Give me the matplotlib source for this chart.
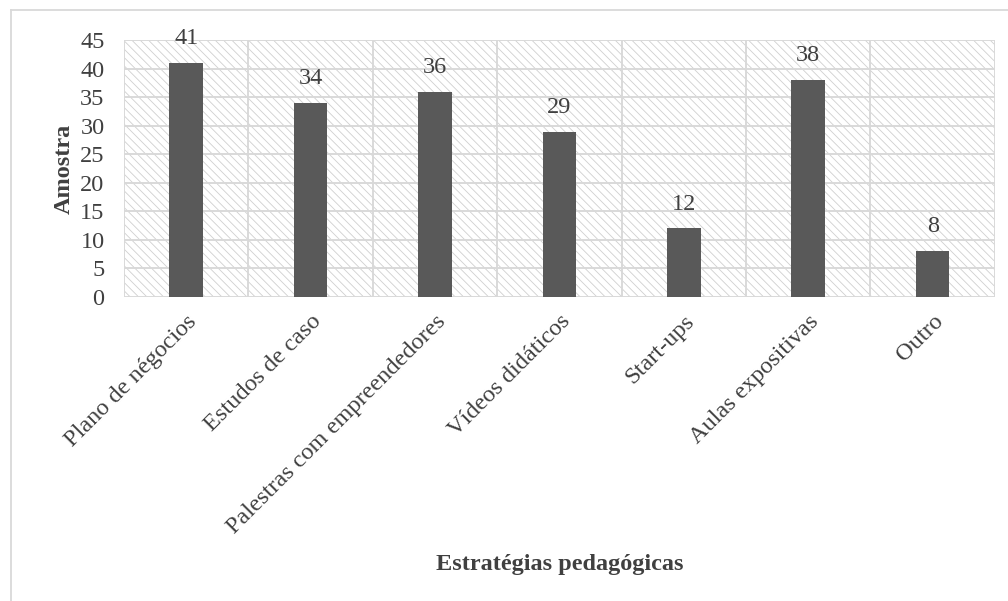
import matplotlib

matplotlib.use("Agg")
import matplotlib.pyplot as plt
from matplotlib.patches import Rectangle
from matplotlib.lines import Line2D

categories = ["Plano de négocios", "Estudos de caso", "Palestras com empreendedores",
              "Vídeos didáticos", "Start-ups", "Aulas expositivas", "Outro"]
values = [41, 34, 36, 29, 12, 38, 8]
y_ticks = [0, 5, 10, 15, 20, 25, 30, 35, 40, 45]

plt.rcParams["font.family"] = ["Liberation Serif", "DejaVu Serif"]
plt.rcParams["hatch.linewidth"] = 0.6
plt.rcParams["hatch.color"] = "#d0d0d0"

grid_color = "#d9d9d9"
text_color = "#404040"
fs = 17.5

fig = plt.figure(figsize=(10.08, 6.01), dpi=100)
ax = fig.add_axes([0.123, 0.506, 0.864, 0.427])

# hatched plot-area background
ax.add_patch(Rectangle((0, 0), 1, 1, transform=ax.transAxes, facecolor="white",
                       edgecolor="#d0d0d0", hatch="\\\\\\\\", linewidth=0, zorder=0))

x = list(range(len(categories)))
ax.bar(x, values, width=0.27, color="#595959", zorder=3)
for xi, v in zip(x, values):
    ax.annotate(str(v), (xi, v), xytext=(0, 10), textcoords="offset points",
                ha="center", va="bottom", fontsize=fs, color=text_color)

ax.set_xlim(-0.5, len(categories) - 0.5)
ax.set_ylim(0, 45)
ax.set_yticks(y_ticks)
ax.set_xticks(x)
ax.set_xticklabels(categories, rotation=45, ha="right", rotation_mode="anchor",
                   fontsize=fs, color=text_color)
ax.tick_params(axis="y", length=0, pad=14, labelsize=fs, labelcolor=text_color)
ax.tick_params(axis="x", length=0, pad=10)

# gridlines: horizontal every 5, vertical at category boundaries
for yv in y_ticks:
    ax.axhline(yv, color=grid_color, linewidth=1.4, zorder=1)
for b in range(len(categories) + 1):
    ax.axvline(b - 0.5, color=grid_color, linewidth=1.4, zorder=1)
for s in ax.spines.values():
    s.set_visible(False)

ax.set_ylabel("Amostra", fontsize=fs, fontweight="bold", color=text_color, labelpad=4)
fig.text(0.555, 0.06, "Estratégias pedagógicas", ha="center", va="center",
         fontsize=fs, fontweight="bold", color=text_color)

# chart frame (top and left edges visible)
fig.add_artist(Line2D([0.011, 1.0], [0.983, 0.983], color=grid_color, linewidth=1.3))
fig.add_artist(Line2D([0.011, 0.011], [0.0, 0.983], color=grid_color, linewidth=1.3))

fig.savefig("out.png", dpi=100)
